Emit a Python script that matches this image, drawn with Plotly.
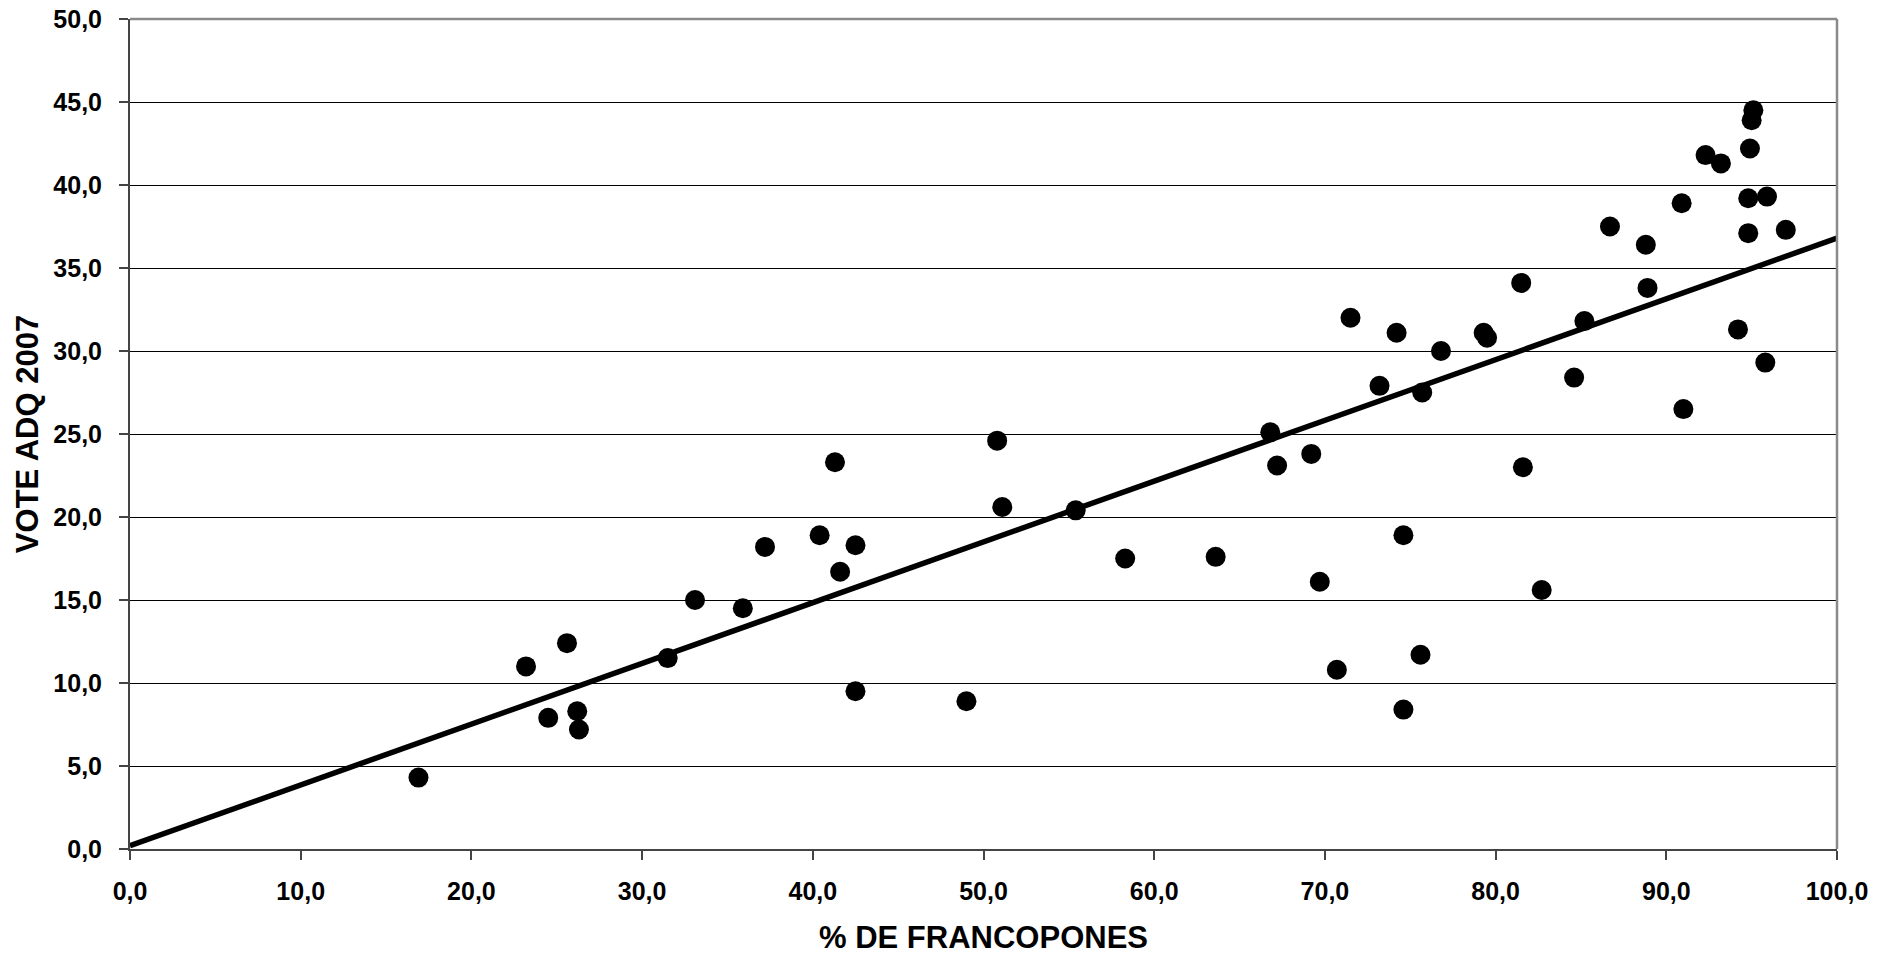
import plotly.graph_objects as go

# Data
francophones = [16.9, 23.2, 25.6, 24.5, 26.2, 26.3, 31.5, 33.1, 35.9, 37.2,
                40.4, 41.3, 41.6, 42.5, 42.5, 49.0, 50.8, 51.1, 55.4, 58.3,
                63.6, 66.8, 67.2, 69.2, 69.7, 70.7, 71.5, 73.2, 74.2, 74.6,
                74.6, 75.6, 75.7, 76.8, 79.3, 79.5, 81.5, 81.6, 82.7, 84.6,
                85.2, 86.7, 88.8, 88.9, 90.9, 91.0, 92.3, 93.2, 94.2, 94.8,
                94.8, 94.9, 95.0, 95.1, 95.8, 95.9, 97.0]
vote_adq = [4.3, 11.0, 12.4, 7.9, 8.3, 7.2, 11.5, 15.0, 14.5, 18.2,
            18.9, 23.3, 16.7, 18.3, 9.5, 8.9, 24.6, 20.6, 20.4, 17.5,
            17.6, 25.1, 23.1, 23.8, 16.1, 10.8, 32.0, 27.9, 31.1, 18.9,
            8.4, 11.7, 27.5, 30.0, 31.1, 30.8, 34.1, 23.0, 15.6, 28.4,
            31.8, 37.5, 36.4, 33.8, 38.9, 26.5, 41.8, 41.3, 31.3, 37.1,
            39.2, 42.2, 43.9, 44.5, 29.3, 39.3, 37.3]
trend_x = [0.0, 100.0]
trend_y = [0.2, 36.8]

x_ticks = [0, 10, 20, 30, 40, 50, 60, 70, 80, 90, 100]
y_ticks = [0, 5, 10, 15, 20, 25, 30, 35, 40, 45, 50]

FONT = "Liberation Sans, Arial, sans-serif"

fig = go.Figure()
fig.add_trace(go.Scatter(
    x=francophones, y=vote_adq, mode="markers",
    marker=dict(color="black", size=20, line=dict(width=0)),
    showlegend=False, cliponaxis=False,
))
fig.add_trace(go.Scatter(
    x=trend_x, y=trend_y, mode="lines",
    line=dict(color="black", width=5.5),
    showlegend=False,
))

axis_common = dict(
    showline=True, linecolor="#444444", linewidth=2,
    ticks="outside", ticklen=9, tickwidth=1.5, tickcolor="#444444",
    tickformat=".1f", zeroline=False, automargin=False,
    tickfont=dict(family=FONT, size=25, color="black", weight="bold"),
)

fig.update_layout(
    width=1892, height=955,
    margin=dict(l=130, r=55, t=19, b=106),
    paper_bgcolor="white", plot_bgcolor="white",
    separators=", ",
    font=dict(family=FONT, color="black"),
    xaxis=dict(
        range=[0, 100], tickvals=x_ticks, showgrid=False,
        ticklabelstandoff=10,
        title=dict(text="<b>% DE FRANCOPONES</b>",
                   font=dict(family=FONT, size=31, color="black"), standoff=25),
        **axis_common,
    ),
    yaxis=dict(
        range=[0, 50], tickvals=y_ticks, showgrid=True,
        gridcolor="black", gridwidth=1,
        ticklabelstandoff=12,
        title=dict(text="<b>VOTE ADQ 2007</b>",
                   font=dict(family=FONT, size=31, color="black"), standoff=5),
        **axis_common,
    ),
    shapes=[
        dict(type="line", xref="paper", yref="paper", x0=0, x1=1, y0=1, y1=1,
             line=dict(color="#8a8a8a", width=2.5)),
        dict(type="line", xref="paper", yref="paper", x0=1, x1=1, y0=0, y1=1,
             line=dict(color="#8a8a8a", width=2.5)),
    ],
)

fig.write_html("out.html")
